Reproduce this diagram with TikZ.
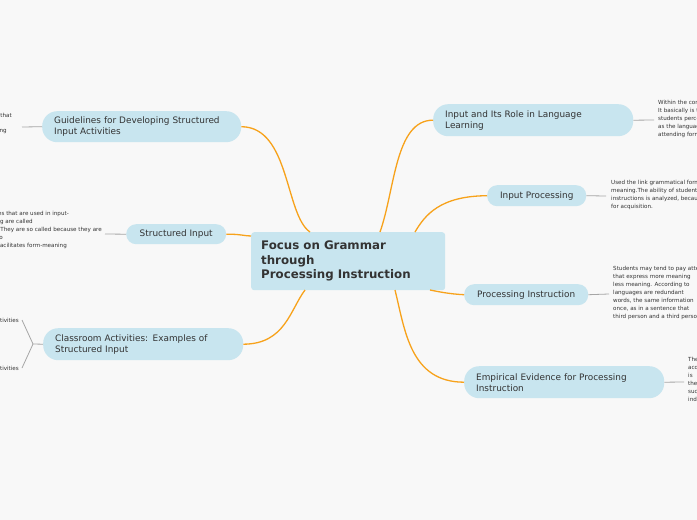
\documentclass[tikz,border=0pt]{standalone}
\usepackage{fontspec}
\setmainfont{DejaVu Sans}
\begin{document}
\begin{tikzpicture}[x=1pt,y=-1pt,
  branch/.style={fill=bl,rounded corners=15pt,inner sep=0pt,text=txt,font=\fontsize{8.9}{11}\selectfont,align=left,anchor=north west},
  tiny/.style={font=\fontsize{5.6}{8}\selectfont,text=txt,align=left,inner sep=0pt},
  curve/.style={draw=orn,line width=1.3pt},
  gl/.style={draw=gray!70,line width=0.8pt}]
\definecolor{bl}{HTML}{C8E5EF}
\definecolor{txt}{HTML}{333333}
\definecolor{orn}{HTML}{F7A21B}
\definecolor{bg}{HTML}{F8F8F8}
\fill[bg] (0,0) rectangle (697,520);
\useasboundingbox (0,0) rectangle (697,520);
\clip (0,0) rectangle (697,520);
% center
\node[fill=bl,rounded corners=3pt,minimum width=194pt,minimum height=58pt,anchor=north west,inner sep=0pt] (c) at (251,232) {};
\node[anchor=west,align=left,font=\bfseries\fontsize{11.8}{14.5}\selectfont,text=txt,inner sep=0pt] (ct) at (261,261) {Focus on Grammar\\through\\Processing Instruction};
% branches
\node[branch,minimum width=199pt,minimum height=31pt,text width=175pt,inner xsep=12pt] (g) at (42,111) {Guidelines for Developing Structured\\Input Activities};
\node[branch,minimum width=100pt,minimum height=20pt,rounded corners=10pt,align=center] (s) at (126,224) {Structured Input};
\node[branch,minimum width=200pt,minimum height=32pt,text width=176pt,inner xsep=12pt] (k) at (43,328) {Classroom Activities: Examples of\\Structured Input};
\node[branch,minimum width=200pt,minimum height=32pt,text width=176pt,inner xsep=12pt] (r) at (433,104) {Input and Its Role in Language\\Learning};
\node[branch,minimum width=99pt,minimum height=21pt,rounded corners=10pt,align=center] (p) at (487,185) {Input Processing};
\node[branch,minimum width=124pt,minimum height=21pt,rounded corners=10pt,align=center] (q) at (464,284) {Processing Instruction};
\node[branch,minimum width=200pt,minimum height=32pt,text width=176pt,inner xsep=12pt] (e) at (464,366) {Empirical Evidence for Processing\\Instruction};
% curves
\coordinate (c1) at (310,232); \coordinate (c2) at (251,236);
\coordinate (c3) at (305,290); \coordinate (c4) at (380,232);
\coordinate (c5) at (415,232); \coordinate (c6) at (430,290);
\coordinate (c7) at (395,290);
\draw[curve] (g.east) .. controls (290,127) and (285,215) .. (c1);
\draw[curve] (s.east) .. controls (240,234) and (245,236) .. (c2);
\draw[curve] (k.east) .. controls (285,344) and (290,310) .. (c3);
\draw[curve] (r.west) .. controls (395,120) and (395,190) .. (c4);
\draw[curve] (p.west) .. controls (440,196) and (425,215) .. (c5);
\draw[curve] (q.west) .. controls (450,294) and (440,292) .. (c6);
\draw[curve] (e.west) .. controls (410,382) and (405,330) .. (c7);
% gray connectors and notes
\coordinate (gg) at (22,127); \draw[gl] (g.west) -- (gg);
\node[tiny,anchor=east] (gt1) at (12,115) {attention to that};
\node[tiny,anchor=east] (gt2) at (7,131) {meaning};
\coordinate (ss) at (105,234); \draw[gl] (s.west) -- (ss);
\node[tiny,anchor=east] (st1) at (69,214) {Activities that are used in input-};
\node[tiny,anchor=east] (st2) at (33,222) {processing are called};
\node[tiny,anchor=east] (st3) at (102,230) {structured input. They are so called because they are};
\node[tiny,anchor=east] (st4) at (3,238) {designed to};
\node[tiny,anchor=east] (st5) at (67,246) {input that facilitates form-meaning};
\coordinate (kk) at (33,344); \coordinate (k1) at (22,320); \coordinate (k2) at (22,368);
\draw[gl] (k.west) -- (kk) -- (k1); \draw[gl] (kk) -- (k2);
\node[tiny,anchor=east] (kt1) at (19,320) {Referential activities};
\node[tiny,anchor=east] (kt2) at (19,368) {Affective activities};
\coordinate (rr) at (654,120); \draw[gl] (r.east) -- (rr);
\node[tiny,anchor=north west] (rt) at (658,100) {Within the context of\\It basically is the input\\students perceive\\as the language\\attending form};
\coordinate (pp) at (606,196); \draw[gl] (p.east) -- (pp);
\node[tiny,anchor=north west] (pt) at (611,180) {Used the link grammatical form\\meaning.The ability of students\\instructions is analyzed, because\\for acquisition.};
\coordinate (qq) at (609,294); \draw[gl] (q.east) -- (qq);
\node[tiny,anchor=north west] (qt) at (613,266) {Students may tend to pay attention\\that express more meaning\\less meaning. According to\\languages are redundant\\words, the same information\\once, as in a sentence that\\third person and a third person};
\coordinate (ee) at (684,382); \draw[gl] (e.east) -- (ee);
\node[tiny,anchor=north west] (et) at (688,357) {The\\acquisition\\is\\the\\such\\ind};
\end{tikzpicture}
\end{document}
